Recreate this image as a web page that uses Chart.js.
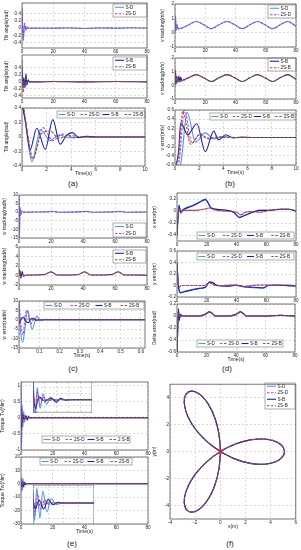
<!DOCTYPE html>
<html>
<head>
<meta charset="utf-8">
<script src="https://cdn.jsdelivr.net/npm/chart.js@4.4.1/dist/chart.umd.min.js"></script>
<style>
body { margin: 0; background: #fff; width: 301px; height: 550px; overflow: hidden; position: relative; font-family: "Liberation Sans", Arial, sans-serif; }
canvas { position: absolute; }
.cap { position: absolute; width: 30px; text-align: center; font-size: 8px; color: #222; line-height: 10px; }
</style>
</head>
<body>
<div class="cap" style="left:58px;top:179px">(a)</div>
<div class="cap" style="left:215px;top:179px">(b)</div>
<div class="cap" style="left:58px;top:364px">(c)</div>
<div class="cap" style="left:212px;top:364px">(d)</div>
<div class="cap" style="left:57px;top:539px">(e)</div>
<div class="cap" style="left:215px;top:539px">(f)</div>
<script>
// ---- tick labels ----
const tLongTicks = [0, 20, 40, 60, 80];
const tShortTicks = [0, 2, 4, 6, 8, 10];
const tWTicks = [0, 0.1, 0.2, 0.3, 0.4, 0.5, 0.6];
const tiltTicks = [-0.4, -0.2, 0, 0.2, 0.4];
const vTrackTicks = [-1, 0, 1, 2];
const vErrTicks = [-0.6, -0.4, -0.2, 0, 0.2, 0.4, 0.6];
const wTrackDTicks = [-15, -10, -5, 0, 5, 10];
const wTrackBTicks = [-2, 0, 2, 4, 6];
const wErrTicks = [-15, -10, -5, 0, 5, 10];
const xErrTicks = [-0.4, -0.2, 0, 0.2];
const yErrTicks = [-0.2, 0, 0.2, 0.4, 0.6];
const dErrTicks = [-0.6, -0.4, -0.2, 0, 0.2];
const tvTicks = [-1, -0.5, 0, 0.5, 1];
const twTicks = [-30, -20, -10, 0, 10, 20];
const trajXTicks = [-4, -2, 0, 2, 4, 6];
const trajYTicks = [-4, -2, 0, 2, 4];
const seriesNames = ['S-D', '2S-D', 'S-B', '2S-B'];

// ---- tilt angle (rad) vs time (s) ----
const tiltSD = [[0,0.55],[0.4,0.05],[0.8,-0.34],[1.5,0.1],[2.3,-0.05],[3.0,0.03],[3.8,-0.01],[5,0],[10,0],[20,-0.01],[30,0.01],[40,-0.01],[50,0.01],[60,-0.01],[70,0.01],[80,0]];
const tilt2SD = [[0,0.5],[0.45,0.05],[0.9,-0.3],[1.7,0.13],[2.5,-0.05],[3.3,0.04],[4.2,-0.01],[5,0],[10,0],[20,0.01],[40,-0.01],[60,0.01],[80,0]];
const tiltSB = [[0,0.45],[0.3,0.2],[0.65,-0.18],[1.2,0.12],[1.9,-0.17],[2.5,0.24],[3.1,-0.1],[3.6,0.02],[4.1,0.06],[4.6,-0.01],[5.2,0.01],[6,0],[10,0],[20,0.01],[40,0],[60,0.01],[80,0]];
const tilt2SB = [[0,0.6],[0.4,0.1],[0.85,-0.3],[1.6,0.05],[2.3,0.08],[3.0,-0.02],[3.8,0.02],[5,0],[10,0],[20,0.01],[40,0],[60,0.01],[80,0]];

// ---- v tracking (m/s) ----
const vSD = [[0,0],[0.3,1.2],[0.8,0.15],[1.3,0.6],[2,0.25],[4,0.3],[9,0.55],[14,0.78],[19,0.55],[24,0.28],[29,0.55],[34.5,0.78],[39.5,0.55],[44.5,0.28],[49.5,0.55],[54.5,0.78],[59.5,0.55],[64.5,0.28],[69.5,0.55],[74.5,0.78],[80,0.45]];
const v2SD = [[0,0],[0.3,1.0],[0.8,0.2],[1.4,0.5],[2.2,0.3],[4,0.3],[9,0.55],[14,0.78],[19,0.55],[24,0.28],[29,0.55],[34.5,0.78],[39.5,0.55],[44.5,0.28],[49.5,0.55],[54.5,0.78],[59.5,0.55],[64.5,0.28],[69.5,0.55],[74.5,0.78],[80,0.45]];
const vSB = [[0,0],[0.3,1.1],[0.7,0.1],[1.3,0.65],[1.9,0.2],[2.6,0.7],[3.2,0.25],[3.8,0.6],[4.5,0.35],[5.5,0.4],[9,0.55],[14,0.78],[19,0.55],[24,0.28],[29,0.55],[34.5,0.78],[39.5,0.55],[44.5,0.28],[49.5,0.55],[54.5,0.78],[59.5,0.55],[64.5,0.28],[69.5,0.55],[74.5,0.78],[80,0.45]];
const v2SB = [[0,0],[0.3,1.15],[0.8,0.15],[1.4,0.55],[2.2,0.3],[4,0.3],[9,0.55],[14,0.78],[19,0.55],[24,0.28],[29,0.55],[34.5,0.78],[39.5,0.55],[44.5,0.28],[49.5,0.55],[54.5,0.78],[59.5,0.55],[64.5,0.28],[69.5,0.55],[74.5,0.78],[80,0.45]];

// ---- v error (m/s) ----
const verrSD = [[0,-0.7],[0.45,-0.6],[1.0,0.55],[1.7,-0.1],[2.5,0.1],[3.2,-0.03],[4,0.02],[5,0],[10,0]];
const verr2SD = [[0,-0.7],[0.35,-0.5],[0.78,0.6],[1.4,-0.12],[2.1,0.08],[2.8,-0.03],[3.5,0.01],[4.5,0],[10,0]];
const verrSB = [[0,-0.7],[0.3,-0.3],[0.47,0.32],[1.05,0.06],[1.8,0.3],[2.5,-0.31],[3.2,0.14],[3.6,-0.05],[4.2,0.06],[4.8,-0.01],[5.5,0.01],[6.5,0],[10,0]];
const verr2SB = [[0,-0.7],[0.3,-0.4],[0.65,0.58],[1.3,-0.15],[2.0,0.06],[2.7,-0.02],[3.5,0.01],[4.5,0],[10,0]];

// ---- w tracking (rad/s) ----
const wSD = [[0,10],[0.3,-15],[0.6,3],[1,-2],[1.6,0.8],[2.5,0],[10,0.1],[17,0.2],[21,0.5],[25,0],[38,0.2],[42,0.5],[46,0],[59,0.2],[63,0.5],[67,0],[80,0.1]];
const w2SD = [[0,8],[0.3,-10],[0.7,2],[1.2,-1],[2,0],[10,0.1],[21,0.4],[25,0],[42,0.4],[46,0],[63,0.4],[67,0],[80,0.1]];
const wSB = [[0,0],[0.5,1.2],[1.2,-0.6],[2,0.9],[2.8,-0.2],[4,0.1],[10,0.1],[16,0.2],[20,0.8],[24,0.1],[30,0.1],[37,0.2],[41,0.8],[45,0.1],[52,0.1],[58,0.2],[62,0.8],[66,0.1],[73,0.1],[80,0.05]];
const w2SB = [[0,0],[0.5,0.8],[1.2,-0.3],[2,0.2],[3,0],[10,0.1],[16,0.2],[20,0.7],[24,0.1],[30,0.1],[37,0.2],[41,0.7],[45,0.1],[52,0.1],[58,0.2],[62,0.7],[66,0.1],[73,0.1],[80,0.05]];

// ---- w error (rad/s) ----
const werrSD = [[0,8],[0.008,-6],[0.018,-12],[0.03,-4],[0.042,5],[0.055,-1],[0.065,-5],[0.078,-1],[0.088,2],[0.1,0],[0.11,-0.5],[0.13,0.2],[0.15,0],[0.62,0]];
const werr2SD = [[0,10],[0.01,-3],[0.02,-8],[0.03,2],[0.04,5],[0.05,1],[0.06,-2],[0.075,1],[0.09,-0.3],[0.11,0],[0.62,0]];
const werrSB = [[0,-2],[0.01,0],[0.022,1.5],[0.035,-1],[0.045,-1.5],[0.058,0.5],[0.07,0.8],[0.085,-0.3],[0.1,0],[0.62,0]];
const werr2SB = [[0,-1],[0.015,1],[0.03,-0.5],[0.045,0.5],[0.06,0],[0.62,0]];

// ---- x error (m) ----
const xerrSD = [[0,-0.42],[0.8,-0.1],[1.5,0.08],[2.5,-0.04],[4,0.02],[10,0.09],[15,0.15],[19,0.2],[20.5,0.16],[23,0.05],[30,0.02],[38,-0.02],[42,-0.1],[45,-0.08],[50,-0.03],[55,0.01],[62,0.01],[70,0.03],[75,0.03],[80,0]];
const xerr2SD = [[0,-0.4],[0.8,-0.08],[1.5,0.06],[2.5,-0.02],[5,0.01],[12,0.01],[18,0.03],[22,0.05],[25,0.02],[32,0],[40,-0.02],[43,-0.07],[46,-0.02],[52,-0.01],[56,-0.02],[62,0.01],[70,0.03],[75,0.03],[80,0]];
const xerrSB = [[0,-0.38],[0.8,-0.05],[1.4,0.1],[2.3,-0.02],[4,0.02],[10,0.08],[15,0.14],[19,0.19],[20.5,0.15],[23,0.05],[30,0.02],[38,-0.02],[42,-0.11],[45,-0.08],[50,-0.03],[55,0.01],[62,0.01],[70,0.03],[75,0.03],[80,0]];
const xerr2SB = [[0,-0.4],[0.8,-0.06],[1.5,0.05],[2.5,-0.01],[5,0.01],[12,0.01],[18,0.03],[22,0.05],[25,0.02],[32,0],[40,-0.02],[43,-0.06],[46,-0.02],[52,-0.01],[56,-0.02],[62,0.01],[70,0.03],[75,0.03],[80,0]];

// ---- y error (m) ----
const yerrSD = [[0,0.4],[0.8,0.05],[1.5,-0.08],[2.5,-0.12],[5,-0.1],[10,-0.07],[15,-0.05],[19,-0.03],[22,0.07],[24,0.05],[27,0],[35,-0.01],[40,0],[45,-0.02],[52,-0.04],[58,-0.05],[61,0],[65,0.01],[72,0],[80,-0.01]];
const yerr2SD = [[0,0.4],[0.8,0.05],[1.5,-0.03],[3,0],[10,0],[18,0],[22,0.05],[25,0.01],[30,0],[38,0.01],[45,-0.02],[50,0],[58,0.01],[65,0],[72,0.01],[80,0]];
const yerrSB = [[0,0.4],[0.8,0.02],[1.5,-0.1],[2.5,-0.13],[5,-0.11],[10,-0.08],[15,-0.05],[19,-0.03],[22,0.06],[24,0.05],[27,0],[35,-0.01],[40,0.01],[45,-0.02],[52,-0.03],[58,-0.04],[61,0],[65,0.01],[72,0],[80,-0.01]];
const yerr2SB = [[0,0.4],[0.8,0.04],[1.5,-0.02],[3,0],[10,0],[18,0],[22,0.04],[25,0.01],[30,0],[38,0.01],[45,-0.02],[50,0],[58,0.01],[65,0],[72,0.01],[80,0]];

// ---- Delta error (rad) ----
const dSD = [[0,-0.6],[0.5,-0.2],[1,0.1],[1.6,-0.05],[2.5,0.02],[4,0],[15,0],[19,0.03],[22,0.07],[24,0.04],[26,0],[35,0],[40,0.03],[43,0.07],[45,0.04],[47,0],[60,0],[70,0.01],[80,0]];
const d2SD = [[0,-0.6],[0.5,-0.25],[1,0.06],[1.6,-0.03],[2.5,0.01],[4,0],[15,0],[19,0.02],[22,0.06],[24,0.04],[26,0],[35,0],[40,0.02],[43,0.06],[45,0.04],[47,0],[60,0],[70,0.01],[80,0]];
const dSB = [[0,-0.6],[0.4,-0.3],[1,0.12],[1.5,-0.08],[2.2,0.03],[3.5,0],[15,0],[19,0.03],[22,0.07],[24,0.04],[26,0],[35,0],[40,0.03],[43,0.07],[45,0.04],[47,0],[60,0],[70,0.01],[80,0]];
const d2SB = [[0,-0.6],[0.5,-0.22],[1,0.05],[1.6,-0.02],[2.5,0],[15,0],[19,0.02],[22,0.06],[24,0.04],[26,0],[35,0],[40,0.02],[43,0.06],[45,0.04],[47,0],[60,0],[70,0.01],[80,0]];

// ---- torque Tv (Nm) ----
const tvSD = [[0,1.1],[0.3,-1],[0.7,0.4],[1.2,-0.3],[1.7,0.2],[2.3,-0.15],[3,0.08],[3.8,-0.04],[4.6,0.02],[5.5,0],[80,0]];
const tv2SD = [[0,0.9],[0.3,-0.8],[0.7,0.25],[1.2,-0.15],[1.8,0.08],[2.5,-0.03],[3.5,0],[80,0]];
const tvSB = [[0,0.3],[0.4,-0.3],[1,0.1],[2,-0.05],[3,0.06],[4,-0.08],[4.7,0.05],[5.5,-0.02],[6.5,0],[80,0]];
const tv2SB = [[0,0.2],[0.4,-0.2],[1,0.05],[1.8,-0.02],[3,0],[80,0]];

// ---- torque Tw (Nm) ----
const twSD = [[0,4],[0.2,-6],[0.5,5],[0.9,-5],[1.3,4],[1.8,-3],[2.4,1.5],[3,-0.5],[4,0],[80,0]];
const tw2SD = [[0,3],[0.25,-4],[0.6,3],[1,-2],[1.5,1],[2.1,-0.5],[3,0],[80,0]];
const twSB = [[0,1],[0.3,-2],[0.8,1],[1.4,-2],[2,1.2],[2.6,-0.6],[3.3,0.2],[4,0],[80,0]];
const tw2SB = [[0,0.5],[0.3,-1],[0.8,0.5],[1.4,-0.4],[2,0.1],[3,0],[80,0]];

// ---- trajectory (m) ----
const trajXY = [[0,0],[1.196,-0.558],[2.396,-0.872],[3.483,-0.933],[4.35,-0.767],[4.907,-0.429],[5.1,0],[4.907,0.429],[4.35,0.767],[3.483,0.933],[2.396,0.872],[1.196,0.558],[0,0],
  [-1.081,-0.757],[-1.953,-1.639],[-2.55,-2.55],[-2.839,-3.384],[-2.825,-4.035],[-2.55,-4.417],[-2.082,-4.464],[-1.511,-4.151],[-0.934,-3.483],[-0.443,-2.511],[-0.115,-1.315],[0,0],
  [-0.115,1.315],[-0.443,2.511],[-0.934,3.483],[-1.511,4.151],[-2.082,4.464],[-2.55,4.417],[-2.825,4.035],[-2.839,3.384],[-2.55,2.55],[-1.953,1.639],[-1.081,0.757],[0,0]];

const FONT = '"Liberation Sans", Arial, sans-serif';
const COLORS = { SD: '#4a9be6', S2D: '#b13ef0', SB: '#1e1eb4', S2B: '#a8561c' };
const DASHED = { SD: false, S2D: true, SB: false, S2B: true };

const framePlugin = {
  id: 'frame',
  afterDraw(chart) {
    const a = chart.chartArea, c = chart.ctx;
    c.save();
    c.strokeStyle = '#555';
    c.lineWidth = 0.8;
    c.strokeRect(a.left, a.top, a.right - a.left, a.bottom - a.top);
    c.restore();
  }
};

const legendPlugin = {
  id: 'boxLegend',
  afterDatasetsDraw(chart, args, o) {
    if (!o || !o.w) return;
    const c = chart.ctx;
    const x = o.x - o.ox, y = o.y - o.oy;
    const names = o.names;
    const n = names.length;
    c.save();
    c.fillStyle = '#fff';
    c.fillRect(x, y, o.w, o.h);
    c.strokeStyle = '#777';
    c.lineWidth = 0.6;
    c.strokeRect(x, y, o.w, o.h);
    c.font = '4.6px ' + FONT;
    c.textBaseline = 'middle';
    for (let i = 0; i < n; i++) {
      const d = chart.data.datasets[i];
      let lx, ly, len;
      if (o.dir === 'v') {
        len = 9; lx = x + 2; ly = y + o.h * (i + 0.5) / n;
      } else {
        len = 7; lx = x + 1.5 + o.w * i / n; ly = y + o.h / 2;
      }
      c.strokeStyle = d.borderColor;
      c.lineWidth = 1.1;
      c.setLineDash(d.borderDash || []);
      c.beginPath();
      c.moveTo(lx, ly);
      c.lineTo(lx + len, ly);
      c.stroke();
      c.setLineDash([]);
      c.fillStyle = '#222';
      c.fillText(names[i], lx + len + 1.5, ly + 0.3);
    }
    c.restore();
  }
};

function addCanvas(left, top, w, h, z) {
  const c = document.createElement('canvas');
  c.width = w; c.height = h;
  c.style.left = left + 'px'; c.style.top = top + 'px';
  c.style.width = w + 'px'; c.style.height = h + 'px';
  if (z) { c.style.zIndex = z; c.style.background = '#fff'; }
  document.body.appendChild(c);
  return c;
}

function axis(dir, range, ticks, title, size, showTicks) {
  return {
    type: 'linear',
    min: range[0],
    max: range[1],
    grid: { color: '#c4c4c4', lineWidth: 0.6, drawTicks: false },
    border: { display: false, dash: [2, 2] },
    ticks: {
      display: showTicks,
      font: { size: 4.6, family: FONT },
      color: '#222',
      padding: dir === 'x' ? 0.5 : 1,
      maxRotation: 0,
      autoSkip: false,
      callback: v => String(v)
    },
    title: { display: !!title, text: title || '', font: { size: 5, family: FONT }, color: '#222', padding: 0 },
    afterBuildTicks: s => { s.ticks = ticks.map(v => ({ value: v })); },
    afterFit: s => {
      if (dir === 'x') s.height = size; else s.width = size;
      s.paddingLeft = 0; s.paddingRight = 0; s.paddingTop = 0; s.paddingBottom = 0;
    }
  };
}

function makeSet(s, i, all) {
  const [label, data, kind] = s;
  return {
    label: label,
    data: data,
    borderColor: COLORS[kind],
    borderWidth: 1.1,
    borderDash: DASHED[kind] ? [2.5, 1.5] : [],
    pointRadius: 0,
    fill: false,
    cubicInterpolationMode: all.curve === 'free' ? 'default' : 'monotone',
    tension: 0.4,
    order: all.length - 1 - i
  };
}

function panel(p) {
  const inset = !!p.inset;
  const cLeft = inset ? p.l : Math.round(p.tx - 3);
  const yW = p.l - cLeft;
  const xH = inset ? 0 : (p.xtitle ? 11 : 7);
  const padT = inset ? 0 : 3, padR = inset ? 0 : 5;
  const cTop = p.t - padT;
  const w = p.r - cLeft + padR;
  const h = p.b - cTop + xH;
  const canvas = addCanvas(cLeft, cTop, w, h, inset ? 5 : 0);
  p.series.curve = p.curve;
  const sets = p.series.map((s, i) => makeSet(s, i, p.series));
  if (p.extra) sets.push(p.extra);
  new Chart(canvas, {
    type: 'line',
    data: { datasets: sets },
    options: {
      responsive: false,
      animation: false,
      devicePixelRatio: 1,
      layout: { padding: { left: 0, top: padT, right: padR, bottom: 0 } },
      plugins: {
        legend: { display: false },
        tooltip: { enabled: false },
        boxLegend: p.legend ? Object.assign({ ox: cLeft, oy: cTop, names: p.series.map(s => s[0]) }, p.legend) : {}
      },
      scales: {
        x: axis('x', p.x, p.xt, p.xtitle, xH, !inset),
        y: axis('y', p.y, p.yt, p.ytitle, yW, !inset)
      }
    },
    plugins: [framePlugin, legendPlugin]
  });
}

const allTilt = [['S-D', tiltSD, 'SD'], ['2S-D', tilt2SD, 'S2D'], ['S-B', tiltSB, 'SB'], ['2S-B', tilt2SB, 'S2B']];

// (a)
panel({ tx: 7, l: 22, t: 3, r: 147, b: 48, x: [0, 80], xt: tLongTicks, y: [-0.54, 0.68], yt: tiltTicks, ytitle: 'Tilt angle(rad)',
  series: [allTilt[0], allTilt[1]], legend: { x: 113, y: 4, w: 34, h: 13, dir: 'v' } });
panel({ tx: 7, l: 22, t: 55, r: 147, b: 98, x: [0, 80], xt: tLongTicks, y: [-0.46, 0.77], yt: tiltTicks, ytitle: 'Tilt angle(rad)',
  series: [allTilt[2], allTilt[3]], legend: { x: 113, y: 57, w: 34, h: 13, dir: 'v' } });
panel({ tx: 7, l: 22, t: 108, r: 145, b: 166, x: [0, 10], xt: tShortTicks, y: [-0.4, 0.4], yt: tiltTicks, ytitle: 'Tilt angle(rad)', xtitle: 'Time(s)',
  series: allTilt, legend: { x: 57, y: 111, w: 88, h: 7 } });

// (b)
panel({ tx: 163, l: 175, t: 4, r: 296, b: 47, x: [0, 80], xt: tLongTicks, y: [-1, 2], yt: vTrackTicks, ytitle: 'v tracking(m/s)',
  series: [['S-D', vSD, 'SD'], ['2S-D', v2SD, 'S2D']], legend: { x: 268, y: 5, w: 28, h: 13, dir: 'v' } });
panel({ tx: 163, l: 175, t: 58, r: 296, b: 99, x: [0, 80], xt: tLongTicks, y: [-1, 2], yt: vTrackTicks, ytitle: 'v tracking(m/s)',
  series: [['S-B', vSB, 'SB'], ['2S-B', v2SB, 'S2B']], legend: { x: 268, y: 58, w: 28, h: 13, dir: 'v' } });
panel({ tx: 163, l: 175, t: 110, r: 296, b: 165, x: [0, 10], xt: tShortTicks, y: [-0.6, 0.6], yt: vErrTicks, ytitle: 'v error(m/s)', xtitle: 'Time(s)',
  series: [['S-D', verrSD, 'SD'], ['2S-D', verr2SD, 'S2D'], ['S-B', verrSB, 'SB'], ['2S-B', verr2SB, 'S2B']], legend: { x: 210, y: 113, w: 85, h: 7 } });

// (c)
panel({ tx: 5, l: 19, t: 195, r: 147, b: 238, x: [0, 80], xt: tLongTicks, y: [-15, 10], yt: wTrackDTicks, ytitle: 'w tracking(rad/s)',
  series: [['S-D', wSD, 'SD'], ['2S-D', w2SD, 'S2D']], legend: { x: 113, y: 223, w: 33, h: 14, dir: 'v' } });
panel({ tx: 5, l: 19, t: 247, r: 147, b: 285, x: [0, 80], xt: tLongTicks, y: [-2, 6], yt: wTrackBTicks, ytitle: 'w tracking(rad/s)',
  series: [['S-B', wSB, 'SB'], ['2S-B', w2SB, 'S2B']], legend: { x: 113, y: 250, w: 33, h: 13, dir: 'v' } });
panel({ tx: 5, l: 19, t: 301, r: 145, b: 348, x: [0, 0.62], xt: tWTicks, y: [-15, 10], yt: wErrTicks, ytitle: 'w error(rad/s)', xtitle: 'Time(s)',
  series: [['S-D', werrSD, 'SD'], ['2S-D', werr2SD, 'S2D'], ['S-B', werrSB, 'SB'], ['2S-B', werr2SB, 'S2B']], legend: { x: 44, y: 302, w: 100, h: 7 } });

// (d)
panel({ tx: 155, l: 177, t: 193, r: 296, b: 241, x: [0, 80], xt: tLongTicks, y: [-0.5, 0.3], yt: xErrTicks, ytitle: 'x error(m)',
  series: [['S-D', xerrSD, 'SD'], ['2S-D', xerr2SD, 'S2D'], ['S-B', xerrSB, 'SB'], ['2S-B', xerr2SB, 'S2B']], legend: { x: 197, y: 232, w: 97, h: 7 } });
panel({ tx: 155, l: 177, t: 251, r: 296, b: 297, x: [0, 80], xt: tLongTicks, y: [-0.2, 0.6], yt: yErrTicks, ytitle: 'y error(m)',
  series: [['S-D', yerrSD, 'SD'], ['2S-D', yerr2SD, 'S2D'], ['S-B', yerrSB, 'SB'], ['2S-B', yerr2SB, 'S2B']], legend: { x: 197, y: 253, w: 97, h: 7 } });
panel({ tx: 155, l: 177, t: 304, r: 295, b: 352, x: [0, 80], xt: tLongTicks, y: [-0.6, 0.2], yt: dErrTicks, ytitle: 'Delta error(rad)', xtitle: 'Time(s)',
  series: [['S-D', dSD, 'SD'], ['2S-D', d2SD, 'S2D'], ['S-B', dSB, 'SB'], ['2S-B', d2SB, 'S2B']], legend: { x: 197, y: 340, w: 86, h: 7 } });

// (e)
const tvSeries = [['S-D', tvSD, 'SD'], ['2S-D', tv2SD, 'S2D'], ['S-B', tvSB, 'SB'], ['2 S-B', tv2SB, 'S2B']];
const twSeries = [['S-D', twSD, 'SD'], ['2S-D', tw2SD, 'S2D'], ['S-B', twSB, 'SB'], ['2S-B', tw2SB, 'S2B']];
panel({ tx: 3, l: 21, t: 382, r: 148, b: 450, x: [0, 80], xt: tLongTicks, y: [-1, 1.1], yt: tvTicks, ytitle: 'Torque Tv(Nm)',
  series: tvSeries, legend: { x: 42, y: 436, w: 88, h: 7 } });
panel({ inset: true, l: 33, t: 382, r: 92, b: 413, x: [0, 10], xt: tShortTicks, y: [-0.45, 0.6], yt: [-0.4, -0.2, 0, 0.2, 0.4], series: tvSeries });
panel({ tx: 3, l: 21, t: 457, r: 148, b: 524, x: [0, 80], xt: tLongTicks, y: [-30, 20], yt: twTicks, ytitle: 'Torque Tw(Nm)', xtitle: 'Time(s)',
  series: twSeries, legend: { x: 40, y: 458, w: 92, h: 7 } });
panel({ inset: true, l: 33, t: 485, r: 94, b: 524, x: [0, 8], xt: [0, 2, 4, 6, 8], y: [-7, 6], yt: [-5, 0, 5], series: twSeries });

// (f)
panel({ tx: 155, l: 170, t: 382, r: 296, b: 519, x: [-4, 6], xt: trajXTicks, y: [-5, 5], yt: trajYTicks, ytitle: 'y(m)', xtitle: 'x(m)', curve: 'free',
  series: [['S-D', trajXY, 'SD'], ['2S-D', trajXY, 'S2D'], ['S-B', trajXY, 'SB'], ['2S-B', trajXY, 'S2B']],
  extra: { data: [[0, 0]], showLine: false, pointRadius: 3, pointStyle: 'crossRot', borderColor: '#e0203a', borderWidth: 1.2, order: -1 },
  legend: { x: 265, y: 383, w: 30, h: 26, dir: 'v' } });
</script>
</body>
</html>
